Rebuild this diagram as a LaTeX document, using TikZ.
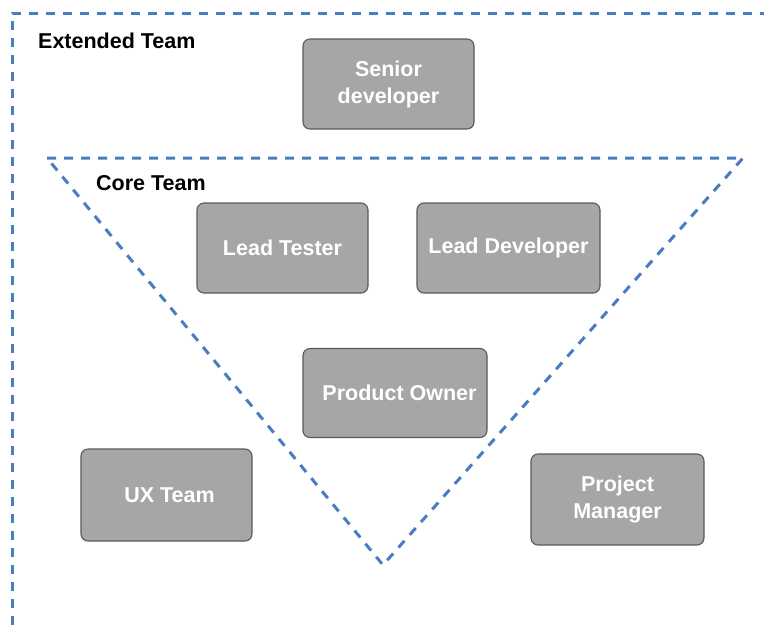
\documentclass[tikz,border=0pt]{standalone}
\usepackage{fontspec}
\setmainfont{Liberation Sans}
\begin{document}
\begin{tikzpicture}[x=1pt,y=-1pt,
  role/.style={draw=black!65, line width=1.1pt, fill=black!35, rounded corners=7pt,
    text=white, font=\fontsize{21.5}{27}\selectfont\bfseries, align=center, inner sep=0pt},
  boundary/.style={line width=3pt, dash pattern=on 9pt off 8pt},
  teamlabel/.style={font=\fontsize{21.5}{27}\selectfont\bfseries, anchor=west, inner sep=0pt}]
\definecolor{bnd}{HTML}{4A7CC2}
\useasboundingbox (0,0) rectangle (764,625);
% outer boundary (open at right and bottom)
\draw[boundary, draw=bnd] (12,625) -- (12,13) -- (764,13);
% inner triangle
\draw[boundary, draw=bnd] (47,158) -- (743,158) -- (383,565) -- cycle;
% labels
\node[teamlabel] (ext) at (38,41) {Extended Team};
\node[teamlabel] (core) at (96,183) {Core Team};
% roles
\node[role, minimum width=171pt, minimum height=90pt] (sd) at (388.5,84) {Senior\\developer};
\node[role, minimum width=171pt, minimum height=90pt] (lt) at (282.5,248) {Lead Tester};
\node[role, minimum width=183pt, minimum height=90pt] (ld) at (508.5,248) {Lead Developer};
\node[role, minimum width=184pt, minimum height=89pt] (po) at (395,393) {\hspace*{9pt}Product Owner};
\node[role, minimum width=171pt, minimum height=92pt] (ux) at (166.5,495) {\hspace*{6pt}UX Team};
\node[role, minimum width=173pt, minimum height=91pt] (pm) at (617.5,499.5) {Project\\Manager};
\end{tikzpicture}
\end{document}
